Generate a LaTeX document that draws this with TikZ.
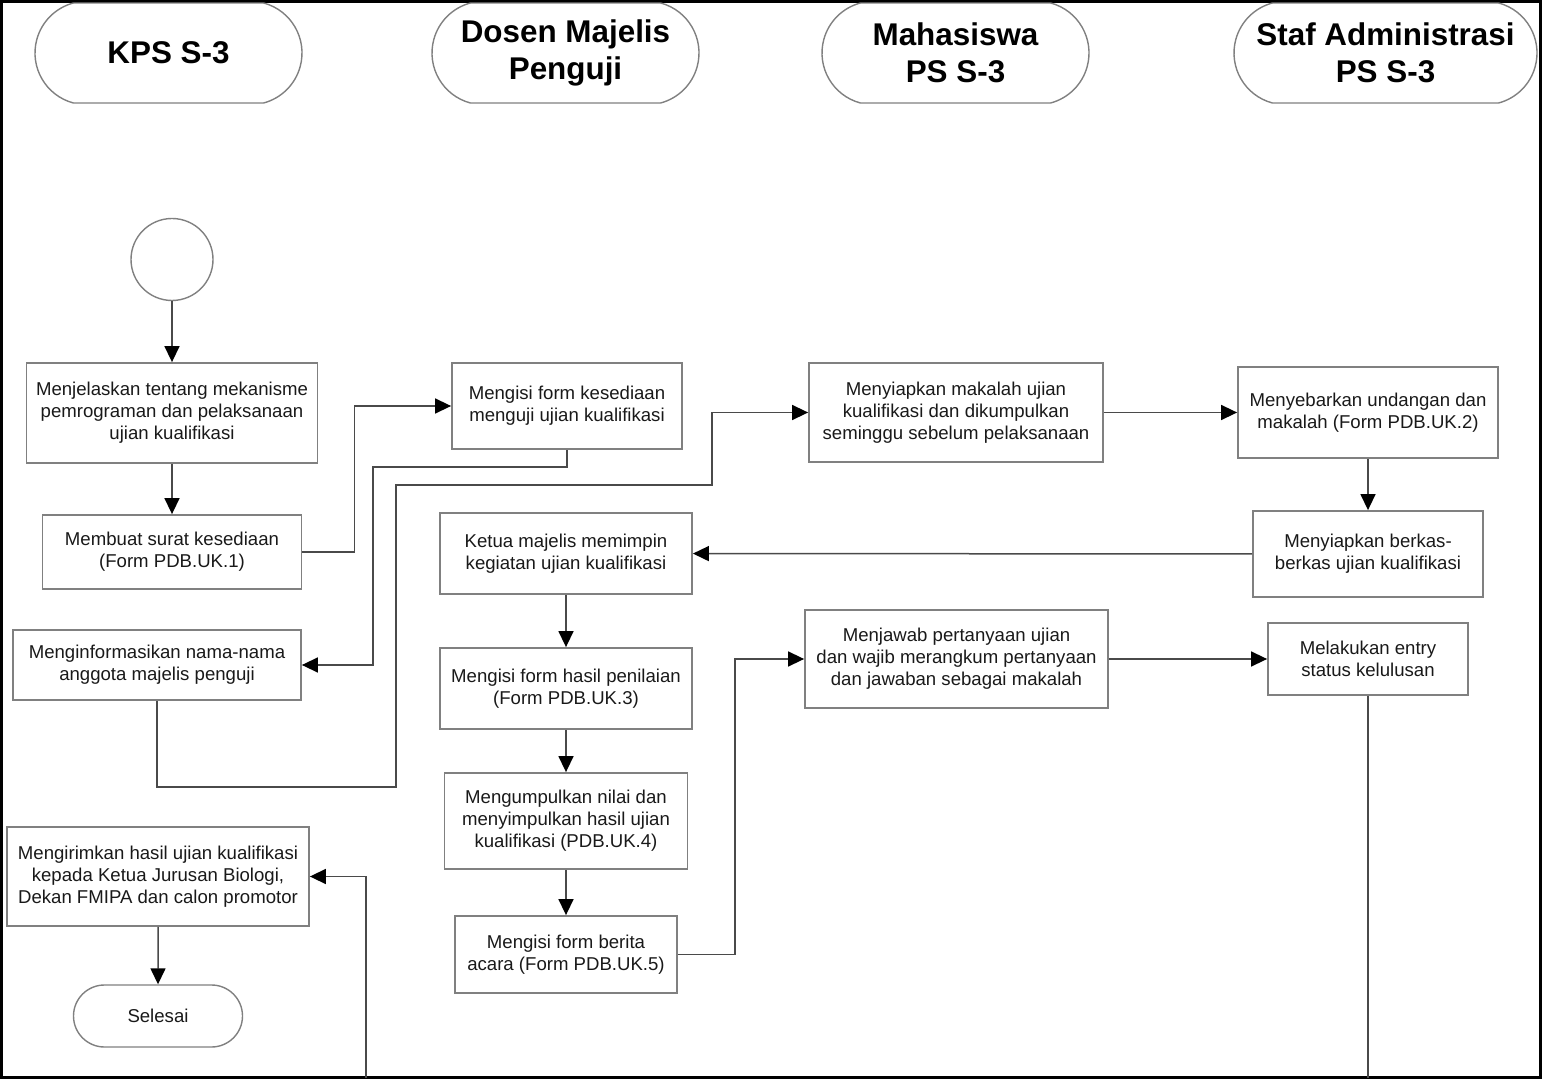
\documentclass[tikz,border=0pt]{standalone}
\usepackage{fontspec}
\setmainfont{Liberation Sans}
\usetikzlibrary{arrows.meta,shapes.misc}
\definecolor{boxgray}{HTML}{808080}
\definecolor{linegray}{HTML}{4A4A4A}
\begin{document}
\begin{tikzpicture}[x=0.5pt,y=-0.5pt,
	box/.style={rectangle, draw=boxgray, line width=0.9pt, text=black!90, align=center, inner sep=0pt, font=\fontsize{9.3}{11}\selectfont},
	lane/.style={rounded rectangle, rounded rectangle arc length=150, draw=boxgray, line width=0.7pt, align=center, inner sep=0pt, minimum height=50pt, font=\fontsize{15.7}{18.5}\selectfont\bfseries},
	flow/.style={draw=linegray, line width=0.75pt},
	arr/.style={flow, -{Triangle[length=8pt,width=7.5pt,color=black,fill=black]}}]
	\useasboundingbox (0,0) rectangle (1542,1079);
	\draw[line width=1.3pt] (1.5,1.5) rectangle (1540.5,1077.5);
	\node[lane, minimum width=133.5pt] at (168.5,53) (L1) {KPS S-3};
	\node[lane, minimum width=133.5pt] at (565.5,53) (L2) {Dosen Majelis\\Penguji};
	\node[lane, minimum width=133.5pt] at (955.5,53) (L3) {Mahasiswa\\PS S-3};
	\node[lane, minimum width=151.5pt] at (1385.5,53) (L4) {Staf Administrasi\\PS S-3};
	\node[circle, draw=boxgray, line width=0.7pt, minimum size=41pt, inner sep=0pt] at (172,259.5) (S) {};
	\node[box, minimum width=145.5pt, minimum height=50pt] at (172,413) (B1) {Menjelaskan tentang mekanisme\\pemrograman dan pelaksanaan\\ujian kualifikasi};
	\node[box, minimum width=129.5pt, minimum height=37pt] at (172,552) (B2) {Membuat surat kesediaan\\(Form PDB.UK.1)};
	\node[box, minimum width=115pt, minimum height=43pt] at (567,406) (B3) {Mengisi form kesediaan\\menguji ujian kualifikasi};
	\node[box, minimum width=144pt, minimum height=35pt] at (157,665) (B4) {Menginformasikan nama-nama\\anggota majelis penguji};
	\node[box, minimum width=147pt, minimum height=49.5pt] at (956,412.5) (B5) {Menyiapkan makalah ujian\\kualifikasi dan dikumpulkan\\seminggu sebelum pelaksanaan};
	\node[box, minimum width=130pt, minimum height=45.5pt] at (1368,412.5) (B6) {Menyebarkan undangan dan\\makalah (Form PDB.UK.2)};
	\node[box, minimum width=115pt, minimum height=43pt] at (1368,554) (B7) {Menyiapkan berkas-\\berkas ujian kualifikasi};
	\node[box, minimum width=126pt, minimum height=40.5pt] at (566,553.5) (B8) {Ketua majelis memimpin\\kegiatan ujian kualifikasi};
	\node[box, minimum width=126pt, minimum height=40.5pt] at (566,688.5) (B9) {Mengisi form hasil penilaian\\(Form PDB.UK.3)};
	\node[box, minimum width=121.5pt, minimum height=48pt] at (566,821) (B10) {Mengumpulkan nilai dan\\menyimpulkan hasil ujian\\kualifikasi (PDB.UK.4)};
	\node[box, minimum width=111pt, minimum height=38.5pt] at (566,954.5) (B11) {Mengisi form berita\\acara (Form PDB.UK.5)};
	\node[box, minimum width=151.5pt, minimum height=49pt] at (956.5,659) (B12) {Menjawab pertanyaan ujian\\dan wajib merangkum pertanyaan\\dan jawaban sebagai makalah};
	\node[box, minimum width=100pt, minimum height=36pt] at (1368,659) (B13) {Melakukan entry\\status kelulusan};
	\node[box, minimum width=151pt, minimum height=49.5pt] at (158,876.5) (B14) {Mengirimkan hasil ujian kualifikasi\\kepada Ketua Jurusan Biologi,\\Dekan FMIPA dan calon promotor};
	\node[box, rounded rectangle, line width=0.7pt, minimum width=84.5pt, minimum height=31pt] at (158,1016) (E) {Selesai};
	\node[shape=coordinate] at ([xshift=26pt]B2.east) (P1) {};
	\node[shape=coordinate] at ([yshift=-8.5pt]B3.south) (P2) {};
	\node[shape=coordinate] at ([xshift=35.5pt]B4.east) (P3) {};
	\node[shape=coordinate] at ([yshift=-43pt]B4.south) (P4) {};
	\node[shape=coordinate] at (396,485) (P5) {};
	\node[shape=coordinate] at ([xshift=-48pt]B5.west) (P6) {};
	\node[shape=coordinate] at ([xshift=28.5pt]B11.east) (P7) {};
	\node[shape=coordinate] at (1368,1078) (Q1) {};
	\node[shape=coordinate] at (366,1078) (Q2) {};
	\draw[arr] (S) -- (B1);
	\draw[arr] (B1) -- (B2);
	\draw[arr] (B2.east) -- (P1) |- (B3.west);
	\draw[arr] (B3.south) -- (P2) -| (P3) -- (B4.east);
	\draw[arr] (B4.south) -- (P4) -| (P5) -| (P6) -- (B5.west);
	\draw[arr] (B5) -- (B6);
	\draw[arr] (B6) -- (B7);
	\draw[arr] (B7) -- (B8);
	\draw[arr] (B8) -- (B9);
	\draw[arr] (B9) -- (B10);
	\draw[arr] (B10) -- (B11);
	\draw[arr] (B11.east) -- (P7) |- (B12.west);
	\draw[arr] (B12) -- (B13);
	\draw[flow] (B13) -- (Q1);
	\draw[arr] (Q2) |- (B14.east);
	\draw[arr] (B14) -- (E);
\end{tikzpicture}
\end{document}
